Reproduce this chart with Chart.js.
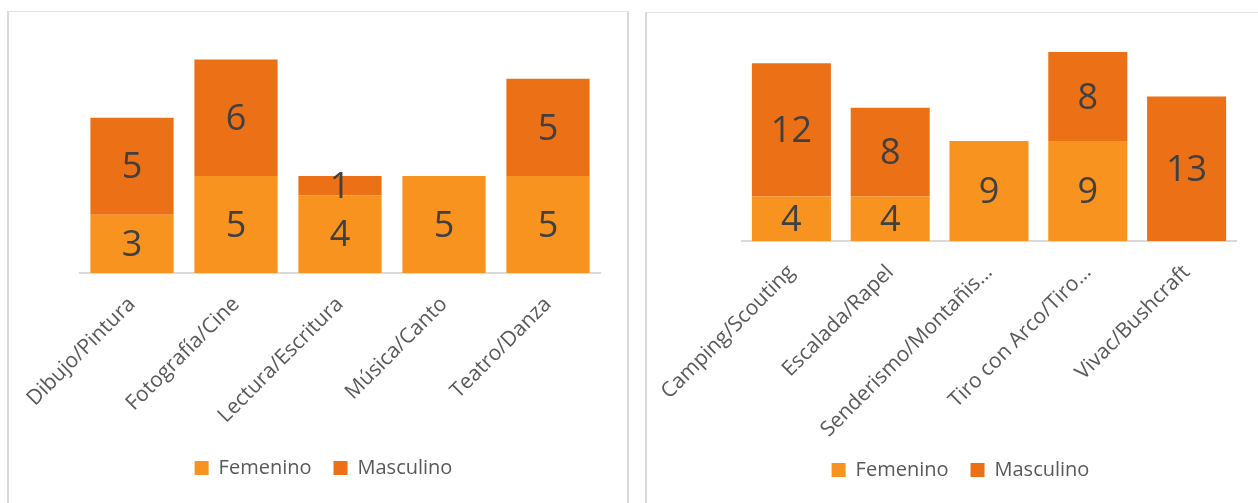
<!DOCTYPE html>
<html>
<head>
<meta charset="utf-8">
<script src="https://cdn.jsdelivr.net/npm/chart.js@4.4.1/dist/chart.umd.min.js"></script>
<style>
  html, body {
    margin: 0;
    width: 1258px;
    height: 503px;
    overflow: hidden;
    background: #fff;
  }
  .box {
    position: absolute;
    border-top: 1px solid #e3e3e3;
    border-left: 2px solid #d9d9d9;
  }
  #box1 {
    left: 7px;
    top: 11px;
    width: 618px;
    height: 492px;
    border-right: 2px solid #d9d9d9;
  }
  #box2 {
    left: 645px;
    top: 12px;
    width: 620px;
    height: 491px;
  }
  canvas {
    display: block;
  }
</style>
</head>
<body>
<div class="box" id="box1"><canvas id="artsChart" width="618" height="491"></canvas></div>
<div class="box" id="box2"><canvas id="outdoorChart" width="611" height="490"></canvas></div>

<script>
const artsLabels = ['Dibujo/Pintura', 'Fotografía/Cine', 'Lectura/Escritura', 'Música/Canto', 'Teatro/Danza']
const artsFemenino = [3, 5, 4, 5, 5]
const artsMasculino = [5, 6, 1, 0, 5]

const outdoorLabels = ['Camping/Scouting', 'Escalada/Rapel', 'Senderismo/Montañis…', 'Tiro con Arco/Tiro…', 'Vivac/Bushcraft']
const outdoorFemenino = [4, 4, 9, 9, 0]
const outdoorMasculino = [12, 8, 0, 8, 13]

const seriesNames = ['Femenino', 'Masculino']
const colorFem = '#F7931E'
const colorMasc = '#EB7016'

Chart.defaults.font.family = "'Open Sans', sans-serif"
Chart.defaults.animation = false

// draws the value in the middle of every non-zero segment
const barValues = {
  id: 'barValues',
  afterDatasetsDraw(chart) {
    const ctx = chart.ctx
    ctx.save()
    ctx.font = "36px 'Open Sans', sans-serif"
    ctx.fillStyle = '#404040'
    ctx.textAlign = 'center'
    ctx.textBaseline = 'middle'
    chart.data.datasets.forEach((ds, i) => {
      const meta = chart.getDatasetMeta(i)
      meta.data.forEach((bar, j) => {
        const v = ds.data[j]
        if (!v) return
        ctx.fillText(String(v), bar.x, (bar.y + bar.base) / 2 + 2)
      })
    })
    ctx.restore()
  }
}

function setChart(id, { labels, fem, masc, max, pad, yWidth, xHeight }) {
  const c = document.getElementById(id).getContext('2d')
  return new Chart(c, {
    type: 'bar',
    data: {
      labels,
      datasets: [
        { label: seriesNames[0], data: fem, backgroundColor: colorFem },
        { label: seriesNames[1], data: masc, backgroundColor: colorMasc }
      ]
    },
    options: {
      responsive: false,
      layout: { padding: pad },
      datasets: {
        bar: { categoryPercentage: 1, barPercentage: 0.8 }
      },
      plugins: {
        tooltip: { enabled: false },
        legend: {
          position: 'bottom',
          labels: {
            boxWidth: 14,
            boxHeight: 14,
            padding: 22,
            color: '#595959',
            font: { size: 20 }
          }
        }
      },
      scales: {
        x: {
          stacked: true,
          grid: { display: false, drawTicks: false },
          border: { display: true, color: '#d9d9d9', width: 2 },
          ticks: {
            autoSkip: false,
            maxRotation: 45,
            minRotation: 45,
            padding: 19,
            color: '#595959',
            font: { size: 21 }
          },
          afterFit(scale) {
            scale.height = xHeight
            scale.paddingLeft = 0
            scale.paddingRight = 0
          }
        },
        y: {
          stacked: true,
          min: 0,
          max,
          grid: { display: false, drawTicks: false },
          border: { display: false },
          ticks: { display: false },
          afterFit(scale) { scale.width = yWidth }
        }
      }
    },
    plugins: [barValues]
  })
}

const artsChart = setChart('artsChart', {
  labels: artsLabels,
  fem: artsFemenino,
  masc: artsMasculino,
  max: 12,
  pad: { top: 28, bottom: 15, left: 38, right: 27 },
  yWidth: 33,
  xHeight: 163
})

const outdoorChart = setChart('outdoorChart', {
  labels: outdoorLabels,
  fem: outdoorFemenino,
  masc: outdoorMasculino,
  max: 18,
  pad: { top: 28, bottom: 13, left: 38, right: 22 },
  yWidth: 57,
  xHeight: 197
})
</script>
</body>
</html>
